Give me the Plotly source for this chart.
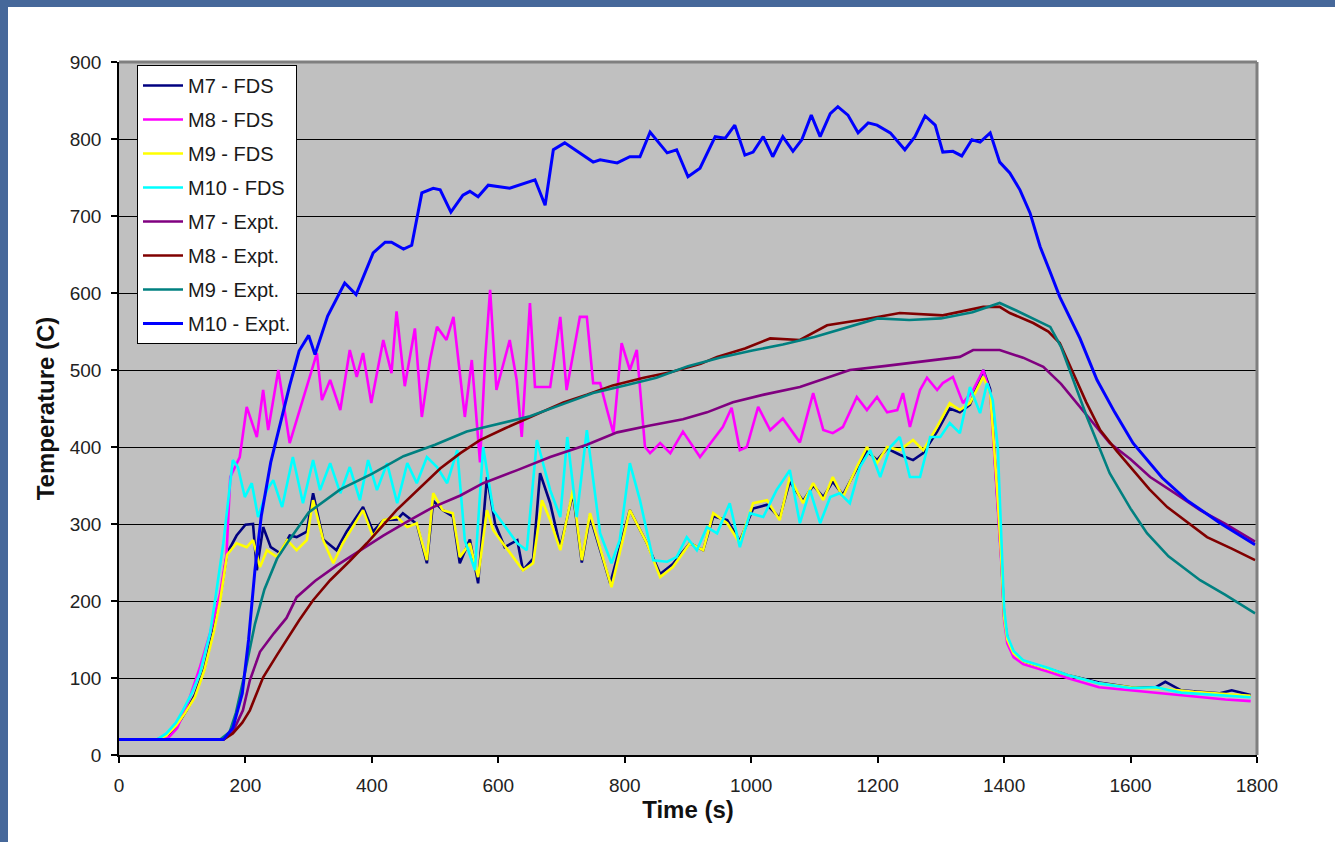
import plotly.graph_objects as go

# ---------------- data ----------------
t_m7_fds = [0, 60, 75, 90, 107, 120, 135, 150, 160, 171, 186, 200, 212, 218, 228, 240, 255, 270, 281, 297,
            307, 323, 344, 360, 386, 402, 418, 440, 449, 471, 487, 497, 512, 528, 539, 555, 568, 582, 595, 610,
            630, 639, 655, 666, 682, 698, 718, 732, 745, 777, 808, 835, 856, 876, 903, 924, 940, 962, 982, 1003,
            1025, 1045, 1061, 1082, 1098, 1114, 1129, 1145, 1167, 1183, 1199, 1215, 1235, 1256, 1272, 1294, 1314,
            1330, 1346, 1367, 1378, 1389, 1396, 1400, 1405, 1415, 1430, 1470, 1500, 1550, 1600, 1640, 1655, 1680,
            1740, 1760, 1790]
T_m7_fds = [20, 20, 24, 36, 58, 78, 112, 165, 205, 262, 285, 299, 300, 240, 296, 270, 262, 285, 283, 290,
            340, 280, 266, 290, 322, 290, 305, 306, 314, 300, 249, 330, 318, 310, 249, 280, 223, 361, 300, 270,
            279, 240, 255, 366, 327, 270, 340, 250, 310, 223, 318, 275, 235, 248, 275, 266, 310, 305, 278, 320,
            325, 308, 355, 330, 350, 335, 355, 338, 372, 395, 383, 398, 390, 383, 392, 420, 450,
            445, 455, 500, 475, 340, 250, 180, 152, 133, 122, 112, 104, 94, 88, 88, 95, 84,
            80, 84, 78]

t_m8_fds = [0, 70, 80, 92, 110, 128, 144, 160, 170, 176, 191, 202, 218, 228, 236, 252, 270, 291, 313, 321,
            334, 350, 365, 376, 386, 399, 418, 431, 439, 452, 468, 479, 492, 503, 518, 529, 547, 558, 571, 579,
            587, 597, 618, 629, 637, 650, 658, 666, 682, 698, 708, 729, 740, 750, 761, 772, 782, 795, 808, 819,
            832, 840, 856, 872, 892, 919, 955, 969, 982, 993, 1011, 1030, 1050, 1077, 1098, 1114, 1129, 1145,
            1167, 1183, 1199, 1215, 1231, 1240, 1251, 1267, 1278, 1294, 1303, 1319, 1335, 1351, 1367, 1378,
            1389, 1396, 1400, 1405, 1415, 1430, 1470, 1500, 1550, 1600, 1650, 1700, 1750, 1790]
T_m8_fds = [20, 20, 24, 35, 70, 114, 158, 210, 260, 361, 387, 452, 413, 474, 422, 500, 405, 461, 522, 461,
            487, 448, 526, 491, 522, 457, 539, 496, 576, 479, 554, 439, 513, 556, 539, 569, 439, 513, 380, 513,
            604, 474, 539, 487, 413, 587, 478, 478, 478, 569, 474, 569, 569, 483, 483, 448, 418, 535, 500, 526,
            400, 392, 405, 392, 420, 387, 426, 451, 396, 400, 452, 422, 437, 406, 470, 422, 418, 426,
            465, 448, 465, 445, 448, 470, 426, 474, 490, 474, 483, 491, 457, 474, 500, 470,
            340, 245, 175, 145, 127, 118, 108, 100, 88, 84, 80, 76, 72, 70]

t_m9_fds = [0, 60, 75, 90, 105, 120, 135, 150, 160, 171, 186, 202, 212, 223, 234, 250, 266, 281, 297, 307,
            323, 339, 354, 370, 386, 402, 418, 440, 456, 471, 487, 497, 512, 528, 539, 555, 568, 582, 592, 607,
            623, 639, 655, 669, 682, 698, 718, 732, 745, 779, 808, 835, 856, 876, 903, 924, 940, 962, 982, 1003,
            1025, 1045, 1061, 1082, 1098, 1114, 1129, 1145, 1167, 1183, 1199, 1215, 1235, 1256, 1272, 1294, 1314,
            1330, 1346, 1367, 1378, 1389, 1396, 1400, 1405, 1415, 1430, 1470, 1500, 1550, 1600, 1650, 1700, 1750,
            1790]
T_m9_fds = [20, 20, 25, 38, 55, 75, 110, 160, 200, 260, 275, 270, 279, 244, 266, 257, 279, 266, 279, 331,
            279, 249, 275, 296, 318, 283, 305, 309, 296, 301, 253, 340, 318, 314, 257, 275, 231, 318, 292, 275,
            257, 240, 249, 331, 305, 266, 344, 253, 314, 218, 318, 275, 231, 244, 275, 266, 314, 301, 275, 327,
            331, 305, 361, 327, 353, 331, 361, 335, 374, 400, 379, 400, 396, 409, 396, 426, 457,
            448, 457, 491, 470, 344, 250, 180, 150, 132, 122, 112, 104, 93, 88, 86, 82, 79,
            77]

t_m10_fds = [0, 60, 75, 90, 101, 115, 128, 144, 152, 165, 180, 188, 199, 210, 220, 234, 244, 258, 275, 291,
             307, 318, 334, 350, 365, 381, 394, 408, 424, 440, 456, 471, 487, 503, 519, 535, 547, 563, 576, 592,
             607, 630, 645, 661, 682, 698, 709, 724, 740, 761, 779, 792, 808, 824, 845, 867, 882, 898, 914, 930,
             946, 966, 982, 998, 1019, 1040, 1061, 1077, 1093, 1109, 1125, 1140, 1156, 1172, 1188, 1204, 1220,
             1235, 1251, 1267, 1283, 1299, 1314, 1330, 1346, 1362, 1373, 1382, 1390, 1396, 1400, 1405, 1415,
             1430, 1470, 1500, 1550, 1600, 1640, 1680, 1740, 1790]
T_m10_fds = [20, 20, 28, 42, 58, 80, 106, 158, 201, 275, 383, 374, 335, 353, 309, 344, 357, 322, 387, 327,
             383, 344, 379, 340, 374, 331, 383, 344, 379, 327, 379, 353, 387, 374, 353, 396, 279, 240, 400, 318,
             301, 275, 266, 409, 344, 309, 413, 309, 422, 288, 249, 279, 379, 331, 253, 251, 257, 283, 266, 296,
             288, 327, 270, 314, 309, 344, 370, 301, 344, 301, 335, 340, 327, 374, 396, 361, 400,
             413, 361, 361, 413, 413, 431, 418, 478, 444, 483, 461, 400, 280, 190, 155, 135,
             123, 113, 104, 93, 87, 88, 81, 78, 75]

t_m7_exp = [0, 165, 180, 196, 207, 223, 245, 265, 281, 310, 344, 380, 418, 460, 497, 540, 576, 630, 682, 740,
            788, 840, 892, 930, 971, 1020, 1077, 1120, 1156, 1210, 1262, 1300, 1330, 1351, 1393, 1430, 1462,
            1490, 1520, 1545, 1567, 1600, 1631, 1670, 1710, 1750, 1797]
T_m7_exp = [20, 20, 30, 58, 97, 134, 158, 178, 205, 226, 246, 265, 285, 305, 322, 337, 353, 370, 387, 403,
            419, 428, 436, 445, 458, 468, 478, 490, 500, 505, 510, 514, 517, 526, 526, 516, 504,
            482, 452, 428, 405, 384, 361, 340, 318, 300, 277]

t_m8_exp = [0, 165, 180, 195, 207, 228, 250, 265, 285, 307, 334, 365, 392, 439, 475, 508, 540, 571, 610, 650,
            703, 740, 781, 830, 872, 920, 946, 990, 1030, 1077, 1120, 1180, 1235, 1303, 1367, 1393, 1409, 1446,
            1470, 1488, 1509, 1530, 1552, 1578, 1604, 1630, 1658, 1690, 1721, 1760, 1797]
T_m8_exp = [20, 20, 28, 42, 58, 101, 130, 149, 175, 201, 227, 252, 275, 318, 346, 372, 392, 409, 424, 439,
            458, 468, 480, 490, 497, 508, 517, 528, 541, 539, 558, 566, 574, 571, 582, 582, 574, 561,
            550, 535, 496, 458, 422, 395, 370, 345, 322, 302, 283, 268, 253]

t_m9_exp = [0, 160, 175, 185, 200, 215, 230, 250, 270, 300, 350, 400, 450, 500, 550, 600, 650, 700, 750, 800,
            850, 900, 950, 1000, 1050, 1100, 1150, 1200, 1250, 1300, 1350, 1393, 1420, 1450, 1473, 1490, 1510,
            1531, 1567, 1600, 1626, 1660, 1710, 1750, 1797]
T_m9_exp = [20, 20, 30, 55, 110, 170, 215, 255, 280, 315, 345, 365, 388, 403, 420, 430, 440, 455, 470, 480,
            490, 505, 516, 525, 533, 543, 555, 567, 565, 567, 575, 587, 577, 565, 556, 530, 485,
            439, 366, 320, 288, 258, 227, 208, 184]

t_m10_exp = [0, 165, 180, 195, 205, 215, 225, 240, 255, 270, 285, 300, 310, 330, 357, 375, 402, 421, 431, 450,
             463, 479, 497, 508, 525, 544, 555, 568, 584, 618, 658, 674, 687, 705, 750, 761, 788, 808, 824, 840,
             867, 882, 900, 919, 943, 959, 974, 990, 1003, 1019, 1034, 1050, 1066, 1080, 1095, 1109, 1125, 1137,
             1153, 1169, 1185, 1199, 1220, 1243, 1259, 1275, 1291, 1303, 1319, 1333, 1349, 1362, 1378, 1393,
             1409, 1425, 1441, 1457, 1473, 1488, 1520, 1547, 1575, 1604, 1650, 1689, 1742, 1797]
T_m10_exp = [20, 20, 35, 80, 150, 240, 310, 380, 430, 480, 525, 545, 520, 570, 613, 598, 652, 666, 666, 657,
             662, 730, 736, 734, 705, 727, 732, 725, 740, 736, 747, 714, 786, 795, 770, 773, 769, 777, 777, 809,
             782, 786, 751, 762, 803, 801, 818, 779, 783, 803, 777, 803, 784, 799, 831, 803, 833, 842,
             831, 808, 821, 818, 808, 786, 803, 830, 818, 783, 784, 778, 799, 796, 808, 770,
             756, 734, 704, 660, 627, 595, 541, 487, 445, 405, 360, 331, 301, 273]

x_ticks = [0, 200, 400, 600, 800, 1000, 1200, 1400, 1600, 1800]
y_ticks = [0, 100, 200, 300, 400, 500, 600, 700, 800, 900]

series = [
    ("M7 - FDS", t_m7_fds, T_m7_fds, "#000080"),
    ("M8 - FDS", t_m8_fds, T_m8_fds, "#FF00FF"),
    ("M9 - FDS", t_m9_fds, T_m9_fds, "#FFFF00"),
    ("M10 - FDS", t_m10_fds, T_m10_fds, "#00FFFF"),
    ("M7 - Expt.", t_m7_exp, T_m7_exp, "#800080"),
    ("M8 - Expt.", t_m8_exp, T_m8_exp, "#800000"),
    ("M9 - Expt.", t_m9_exp, T_m9_exp, "#008080"),
    ("M10 - Expt.", t_m10_exp, T_m10_exp, "#0000FF"),
]

# ---------------- figure ----------------
W, H = 1335, 842
L, R, T, B = 119, 78, 62, 87
pw, ph = W - L - R, H - T - B

fig = go.Figure()
for i, (name, xs, ys, col) in enumerate(series):
    fig.add_trace(go.Scatter(
        x=xs, y=ys, mode="lines", name=name, legendgroup=f"g{i}",
        line=dict(color=col, width=3 if name == "M10 - Expt." else 2.6),
    ))

def px_x(p):
    return (p - L) / pw

def px_y(p):
    return (H - B - p) / ph

font_family = "Liberation Sans, Arial, sans-serif"
shapes = [
    # blue slide background strips
    dict(type="rect", xref="paper", yref="paper", x0=px_x(0), x1=px_x(8), y0=px_y(H), y1=px_y(0),
         fillcolor="#46689A", line=dict(width=0), layer="above"),
    dict(type="rect", xref="paper", yref="paper", x0=px_x(0), x1=px_x(W), y0=px_y(7), y1=px_y(0),
         fillcolor="#46689A", line=dict(width=0), layer="above"),
    # plot-area border (Excel style)
    dict(type="line", xref="paper", yref="paper", x0=0, x1=1, y0=1, y1=1,
         line=dict(color="#7F7F7F", width=3), layer="above"),
    dict(type="line", xref="paper", yref="paper", x0=1, x1=1, y0=0, y1=1,
         line=dict(color="#7F7F7F", width=3), layer="above"),
]

fig.update_layout(
    width=W, height=H,
    margin=dict(l=L, r=R, t=T, b=B, pad=0),
    paper_bgcolor="white",
    plot_bgcolor="#C0C0C0",
    font=dict(family=font_family, color="#1a1a1a", size=19),
    showlegend=True,
    legend=dict(
        x=px_x(137), y=px_y(65), xanchor="left", yanchor="top",
        bgcolor="white", bordercolor="black", borderwidth=1,
        font=dict(family=font_family, size=20, color="#1a1a1a"),
        tracegroupgap=5, traceorder="grouped", itemwidth=40,
    ),
    shapes=shapes,
)

fig.update_xaxes(
    range=[0, 1800], tickvals=x_ticks, ticktext=[str(v) for v in x_ticks],
    showline=True, linecolor="black", linewidth=1.5, mirror=False,
    ticks="outside", ticklen=6, tickcolor="black", tickwidth=1.5,
    showgrid=False, zeroline=False,
    tickfont=dict(size=19, color="#222"), ticklabelstandoff=6,
    title=dict(text="<b>Time (s)</b>", font=dict(size=24, color="#111"), standoff=3),
)
fig.update_yaxes(
    range=[0, 900], tickvals=y_ticks, ticktext=[str(v) for v in y_ticks],
    showline=True, linecolor="black", linewidth=1.5, mirror=False,
    ticks="outside", ticklen=6, tickcolor="black", tickwidth=1.5,
    showgrid=True, gridcolor="black", gridwidth=1, zeroline=False,
    tickfont=dict(size=19, color="#222"), ticklabelstandoff=6,
    title=dict(text="<b>Temperature (C)</b>", font=dict(size=24, color="#111"), standoff=8),
)

fig.write_html("out.html")
